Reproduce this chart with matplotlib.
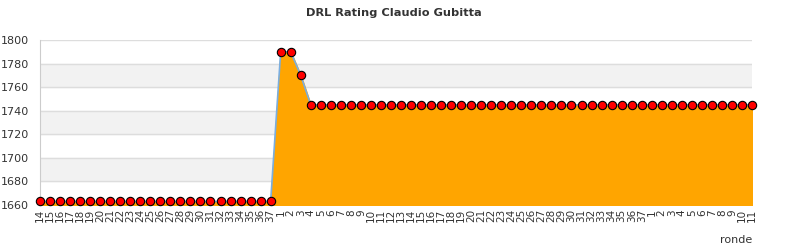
import matplotlib
matplotlib.use("Agg")
import matplotlib.pyplot as plt

# rounds: tail of one season, then the next, then the start of another
rounds = [str(r) for r in range(14, 38)] + [str(r) for r in range(1, 38)] + [str(r) for r in range(1, 12)]

rating = [1663] * 24 + [1790, 1790, 1770] + [1745] * 34 + [1745] * 11

ymin, ymax = 1660, 1800

fig = plt.figure(figsize=(7.9, 2.5), dpi=100)
ax = fig.add_axes([40 / 790, 1 - 205 / 250, 712 / 790, 165 / 250])

xs = list(range(len(rating)))

# alternating background bands
for lo in range(ymin, ymax, 20):
    if (lo - ymin) // 20 % 2 == 1:
        ax.axhspan(lo, lo + 20, color="#f2f2f2", zorder=0)
for y in range(ymin, ymax + 1, 20):
    ax.axhline(y, color="#dddddd", lw=1, zorder=0.5)

ax.fill_between(xs, rating, ymin, color="#ffa500", zorder=1)
ax.plot(xs, rating, color="#7aaee0", lw=1.2, zorder=2)
ax.plot(xs, rating, ls="none", marker="o", ms=6, mfc="#ff0000", mec="black", mew=0.8,
        zorder=3, clip_on=False)

ax.set_xlim(0, len(rating) - 1)
ax.set_ylim(ymin, ymax)
ax.set_xticks(xs)
ax.set_xticklabels(rounds, rotation=90, fontsize=7.5, color="#333333")
ax.set_yticks(range(ymin, ymax + 1, 20))
ax.tick_params(axis="y", labelsize=8, colors="#333333", length=0, pad=8)
ax.tick_params(axis="x", length=0, pad=3)

for side in ["top", "right", "bottom"]:
    ax.spines[side].set_visible(False)
ax.spines["left"].set_color("#cccccc")

fig.text(394 / 790, 1 - 13 / 250, "DRL Rating Claudio Gubitta", ha="center", va="center",
         fontsize=8.2, fontweight="bold", color="#333333")
fig.text(752 / 790, 1 - 240 / 250, "ronde", ha="right", va="center", fontsize=8, color="#333333")

fig.savefig("out.png", dpi=100)
